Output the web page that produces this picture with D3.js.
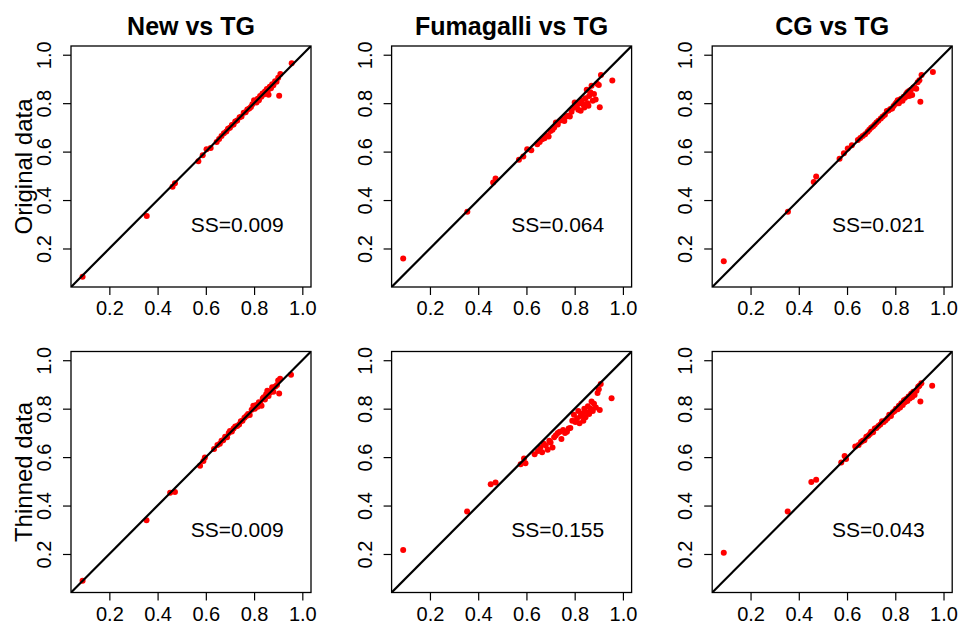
<!DOCTYPE html>
<html>
<head>
<meta charset="utf-8">
<script src="https://cdn.jsdelivr.net/npm/d3@7"></script>
<style>
  html, body { margin: 0; padding: 0; background: #fff; }
  svg { display: block; font-family: "Liberation Sans", Arial, Helvetica, sans-serif; }
</style>
</head>
<body>
<svg id="chart" width="962" height="625"></svg>
<script>
// Method names (columns) and data sets (rows)
const methods = ["New", "Fumagalli", "CG"];
const datasets = ["Original data", "Thinned data"];
const tickValues = [0.2, 0.4, 0.6, 0.8, 1.0];

// TG estimates, original data
const tgOriginal = [0.089, 0.355, 0.462, 0.472, 0.569, 0.587, 0.603, 0.620, 0.645, 0.655, 0.665, 0.675, 0.685, 0.692, 0.700, 0.708, 0.715, 0.722, 0.730, 0.740, 0.748, 0.757, 0.765, 0.772, 0.780, 0.787, 0.793, 0.800, 0.805, 0.810, 0.815, 0.820, 0.825, 0.830, 0.835, 0.840, 0.845, 0.850, 0.853, 0.857, 0.860, 0.865, 0.870, 0.875, 0.880, 0.887, 0.893, 0.900, 0.904, 0.909, 0.956];
const newOriginal = [0.083, 0.334, 0.455, 0.469, 0.560, 0.585, 0.610, 0.615, 0.640, 0.652, 0.664, 0.676, 0.683, 0.694, 0.698, 0.710, 0.712, 0.724, 0.728, 0.742, 0.745, 0.760, 0.762, 0.774, 0.778, 0.784, 0.795, 0.812, 0.808, 0.803, 0.818, 0.812, 0.830, 0.826, 0.840, 0.836, 0.848, 0.842, 0.858, 0.852, 0.835, 0.868, 0.862, 0.878, 0.874, 0.890, 0.888, 0.905, 0.831, 0.920, 0.965];
const fumOriginal = [0.159, 0.352, 0.472, 0.489, 0.566, 0.580, 0.610, 0.606, 0.630, 0.640, 0.651, 0.655, 0.668, 0.662, 0.685, 0.690, 0.700, 0.720, 0.712, 0.728, 0.735, 0.726, 0.745, 0.748, 0.745, 0.765, 0.780, 0.803, 0.785, 0.792, 0.773, 0.800, 0.769, 0.812, 0.795, 0.782, 0.820, 0.855, 0.800, 0.789, 0.830, 0.845, 0.872, 0.810, 0.838, 0.815, 0.880, 0.875, 0.783, 0.916, 0.894];
const cgOriginal = [0.147, 0.352, 0.475, 0.497, 0.571, 0.593, 0.613, 0.626, 0.648, 0.656, 0.664, 0.672, 0.682, 0.690, 0.698, 0.705, 0.712, 0.720, 0.727, 0.737, 0.745, 0.752, 0.768, 0.770, 0.776, 0.778, 0.788, 0.797, 0.803, 0.812, 0.800, 0.815, 0.818, 0.810, 0.826, 0.822, 0.838, 0.845, 0.830, 0.850, 0.831, 0.855, 0.834, 0.865, 0.865, 0.860, 0.886, 0.895, 0.806, 0.916, 0.929];

// TG estimates, thinned data
const tgThinned = [0.089, 0.354, 0.452, 0.472, 0.576, 0.590, 0.596, 0.634, 0.648, 0.658, 0.665, 0.672, 0.680, 0.688, 0.695, 0.700, 0.708, 0.715, 0.722, 0.730, 0.738, 0.745, 0.752, 0.760, 0.768, 0.775, 0.782, 0.790, 0.797, 0.803, 0.810, 0.815, 0.820, 0.825, 0.831, 0.836, 0.840, 0.845, 0.850, 0.855, 0.860, 0.866, 0.870, 0.875, 0.880, 0.888, 0.895, 0.900, 0.904, 0.908, 0.953];
const newThinned = [0.090, 0.339, 0.453, 0.456, 0.564, 0.584, 0.598, 0.633, 0.650, 0.655, 0.668, 0.670, 0.684, 0.682, 0.700, 0.708, 0.706, 0.718, 0.726, 0.728, 0.735, 0.748, 0.750, 0.762, 0.770, 0.778, 0.774, 0.795, 0.812, 0.800, 0.815, 0.808, 0.826, 0.822, 0.812, 0.842, 0.847, 0.838, 0.860, 0.874, 0.852, 0.867, 0.872, 0.888, 0.870, 0.892, 0.898, 0.916, 0.863, 0.923, 0.940];
const fumThinned = [0.216, 0.375, 0.488, 0.495, 0.571, 0.594, 0.575, 0.612, 0.625, 0.640, 0.620, 0.655, 0.648, 0.630, 0.668, 0.660, 0.640, 0.682, 0.690, 0.700, 0.705, 0.675, 0.712, 0.700, 0.705, 0.718, 0.720, 0.750, 0.775, 0.745, 0.760, 0.790, 0.740, 0.770, 0.780, 0.750, 0.800, 0.765, 0.785, 0.810, 0.778, 0.800, 0.830, 0.790, 0.820, 0.805, 0.865, 0.880, 0.794, 0.902, 0.843];
const cgThinned = [0.205, 0.375, 0.497, 0.506, 0.578, 0.605, 0.592, 0.644, 0.650, 0.662, 0.668, 0.670, 0.684, 0.688, 0.695, 0.705, 0.703, 0.718, 0.720, 0.728, 0.735, 0.748, 0.745, 0.752, 0.760, 0.775, 0.770, 0.785, 0.790, 0.800, 0.798, 0.812, 0.805, 0.822, 0.815, 0.835, 0.826, 0.840, 0.832, 0.850, 0.842, 0.862, 0.848, 0.870, 0.856, 0.874, 0.890, 0.895, 0.830, 0.905, 0.895];

// Sum-of-squares labels per panel (row-major)
const ssLabels = [["SS=0.009", "SS=0.064", "SS=0.021"], ["SS=0.009", "SS=0.155", "SS=0.043"]];

const tgByRow = [tgOriginal, tgThinned];
const methodByRow = [[newOriginal, fumOriginal, cgOriginal], [newThinned, fumThinned, cgThinned]];

const svg = d3.select("#chart");
const domain = [0.041, 1.036];
const panelW = 240, panelH = 241;
const colLeft = [71, 391.6, 712.2];
const rowTop = [46, 351.5];

rowTop.forEach((top, r) => {
  colLeft.forEach((left, c) => {
    const x = d3.scaleLinear().domain(domain).range([left, left + panelW]);
    const y = d3.scaleLinear().domain(domain).range([top + panelH, top]);
    const g = svg.append("g");
    const clipId = `clip-${r}-${c}`;
    g.append("clipPath").attr("id", clipId)
      .append("rect").attr("x", left).attr("y", top).attr("width", panelW).attr("height", panelH);

    const pts = tgByRow[r].map((tg, i) => ({ tg, est: methodByRow[r][c][i] }));
    g.append("g").selectAll("circle").data(pts).join("circle")
      .attr("cx", d => x(d.tg)).attr("cy", d => y(d.est))
      .attr("r", 3).attr("fill", "#ff0000");

    // 1:1 reference line
    g.append("line").attr("clip-path", `url(#${clipId})`)
      .attr("x1", x(domain[0])).attr("y1", y(domain[0]))
      .attr("x2", x(domain[1])).attr("y2", y(domain[1]))
      .attr("stroke", "#000").attr("stroke-width", 2.2);

    // axes
    const xAxis = d3.axisBottom(x).tickValues(tickValues).tickFormat(d3.format(".1f")).tickSize(8).tickPadding(4);
    const xg = g.append("g").attr("transform", `translate(0,${top + panelH})`).call(xAxis);
    const yAxis = d3.axisLeft(y).tickValues(tickValues).tickFormat(d3.format(".1f")).tickSize(8).tickPadding(4);
    const yg = g.append("g").attr("transform", `translate(${left},0)`).call(yAxis);
    [xg, yg].forEach(a => {
      a.select(".domain").remove();
      a.selectAll(".tick line").attr("stroke", "#000").attr("stroke-width", 1.2);
      a.selectAll(".tick text").attr("font-size", 20).attr("fill", "#000")
        .attr("font-family", "Liberation Sans, Arial, sans-serif");
    });
    xg.selectAll(".tick text").attr("dy", "0.8em");
    yg.selectAll(".tick text")
      .attr("text-anchor", "middle")
      .attr("x", null).attr("dy", null)
      .attr("transform", "translate(-20,0) rotate(-90)");

    // box
    g.append("rect").attr("x", left).attr("y", top).attr("width", panelW).attr("height", panelH)
      .attr("fill", "none").attr("stroke", "#000").attr("stroke-width", 1.3);

    g.append("text").attr("x", x(0.73)).attr("y", y(0.3)).attr("dy", "0.35em")
      .attr("text-anchor", "middle").attr("font-size", 21).text(ssLabels[r][c]);

    if (r === 0) {
      g.append("text").attr("x", left + panelW / 2).attr("y", 35)
        .attr("text-anchor", "middle").attr("font-size", 25).attr("font-weight", "bold")
        .text(`${methods[c]} vs TG`);
    }
    if (c === 0) {
      g.append("text").attr("transform", `translate(32,${top + panelH / 2}) rotate(-90)`)
        .attr("text-anchor", "middle").attr("font-size", 24).text(datasets[r]);
    }
  });
});
</script>
</body>
</html>
